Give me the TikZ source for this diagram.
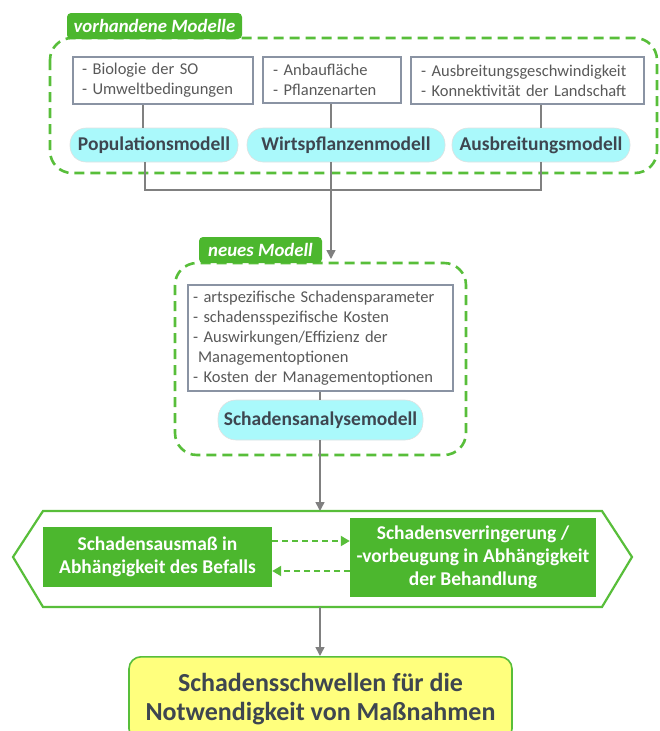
\documentclass[tikz,border=0pt]{standalone}
\usepackage{fontspec}
\setmainfont{Carlito}
\usetikzlibrary{arrows.meta,calc}
\hyphenpenalty=10000
\definecolor{grn}{RGB}{76,183,46}
\definecolor{dgrn}{RGB}{88,190,58}
\definecolor{boxgray}{RGB}{138,147,163}
\definecolor{linegray}{RGB}{128,128,128}
\definecolor{txtgray}{RGB}{89,89,89}
\definecolor{pilltxt}{RGB}{62,70,80}
\definecolor{cyanpill}{RGB}{170,249,251}
\definecolor{yel}{RGB}{255,255,125}
\tikzset{
  desc/.style={draw=boxgray, line width=2.4pt, fill=white, inner sep=0pt, font=\fontsize{16.5}{20}\selectfont, text=txtgray, align=left},
  pill/.style={fill=cyanpill, draw=black!12, line width=0.6pt, rounded corners=16pt, inner sep=0pt, font=\fontsize{19.5}{22}\selectfont\bfseries, text=pilltxt},
  tab/.style={fill=grn, rounded corners=4pt, inner sep=0pt, font=\fontsize{18.8}{20}\selectfont\bfseries\itshape, text=white},
  grpbox/.style={draw=dgrn, line width=2.6pt, dash pattern=on 10pt off 6pt, rounded corners=22pt},
  conn/.style={draw=linegray, line width=1.6pt},
  arr/.style={conn, -{Triangle[length=9pt,width=9pt]}},
  gbox/.style={fill=grn, inner sep=0pt, font=\fontsize{19.5}{23}\selectfont\bfseries, text=white, align=center},
  dasharr/.style={draw=dgrn, line width=2pt, dash pattern=on 6pt off 4pt, -{Triangle[length=9pt,width=10pt]}}
}
\begin{document}
\begin{tikzpicture}[x=1pt,y=-1pt]
\useasboundingbox (0,0) rectangle (660,731);
% group 1
\draw[grpbox] (50,38) rectangle (657,173);
\node[tab, minimum width=175pt, minimum height=26pt] (tab1) at (154.5,26) {vorhandene Modelle};
\node[desc, minimum width=180pt, minimum height=47pt, text width=162pt] (b1) at (163,80.5) {- Biologie der SO\\- Umweltbedingungen};
\node[desc, minimum width=138pt, minimum height=46pt, text width=118pt] (b2) at (332,80) {- Anbaufläche\\- Pflanzenarten};
\node[desc, minimum width=233pt, minimum height=47pt, text width=213pt] (b3) at (527.5,80.5) {- Ausbreitungsgeschwindigkeit\\- Konnektivität der Landschaft};
\node[pill, minimum width=168pt, minimum height=34pt] (p1) at (154,145) {Populationsmodell};
\node[pill, minimum width=198pt, minimum height=34pt] (p2) at (346,145) {Wirtspflanzenmodell};
\node[pill, minimum width=178pt, minimum height=34pt] (p3) at (541,145) {Ausbreitungsmodell};
% group 2
\draw[grpbox] (175,263) rectangle (466,455);
\node[tab, minimum width=123pt, minimum height=26pt] (tab2) at (260.5,250) {neues Modell};
\node[desc, minimum width=265pt, minimum height=106pt, text width=255pt] (b4) at (320.5,338)
 {- artspezifische Schadensparameter\\- schadensspezifische Kosten\\- Auswirkungen/Effizienz der\\\hspace*{5pt}Managementoptionen\\- Kosten der Managementoptionen};
\node[pill, minimum width=205pt, minimum height=40pt, rounded corners=18pt] (p4) at (320.5,420) {Schadensanalysemodell};
% hexagon
\draw[draw=dgrn, line width=2.2pt, fill=white] (13,557) -- (43,511) -- (602,511) -- (632,557) -- (602,607) -- (43,607) -- cycle;
\coordinate (hextop) at (320,511);
\coordinate (hexbot) at (320,607);
\node[gbox, minimum width=229pt, minimum height=60pt] (g1) at (157.5,557) {Schadensausmaß in\\Abhängigkeit des Befalls};
\node[gbox, minimum width=246pt, minimum height=79pt] (g2) at (473,557.5) {Schadensverringerung /\\-vorbeugung in Abhängigkeit\\der Behandlung};
\draw[dasharr] (g1.east |- 0,541) -- (g2.west |- 0,541);
\draw[dasharr] (g2.west |- 0,571) -- (g1.east |- 0,571);
% result
\node[fill=yel, draw=dgrn, line width=1.6pt, rounded corners=12pt, minimum width=383pt, minimum height=84pt, anchor=north, inner sep=0pt, font=\fontsize{26}{29}\selectfont\bfseries, text=pilltxt, align=center] (res) at (320.5,656) {Schadensschwellen für die\\Notwendigkeit von Maßnahmen};
% connectors group 1
\draw[conn] ([xshift=-20pt]b1.south) -- ([xshift=-11pt]p1.north);
\draw[conn] ([xshift=-1pt]b2.south) -- ([xshift=-15pt]p2.north);
\draw[conn] ([xshift=13.5pt]b3.south) -- (p3.north);
\coordinate (j1) at (145,190);
\coordinate (j3) at (541,190);
\draw[conn] ([xshift=-9pt]p1.south) -- (j1) -- (j3) -- (p3.south);
\draw[arr] ([xshift=-15pt]p2.south) -- ([xshift=-15pt]p2.south |- 0,259);
% connectors group 2
\draw[conn] ([xshift=-0.5pt]b4.south) -- ([xshift=-0.5pt]p4.north);
\draw[arr] ([xshift=-0.5pt]p4.south) -- (hextop);
\draw[arr] (hexbot) -- (res.north -| hexbot);
\end{tikzpicture}
\end{document}
